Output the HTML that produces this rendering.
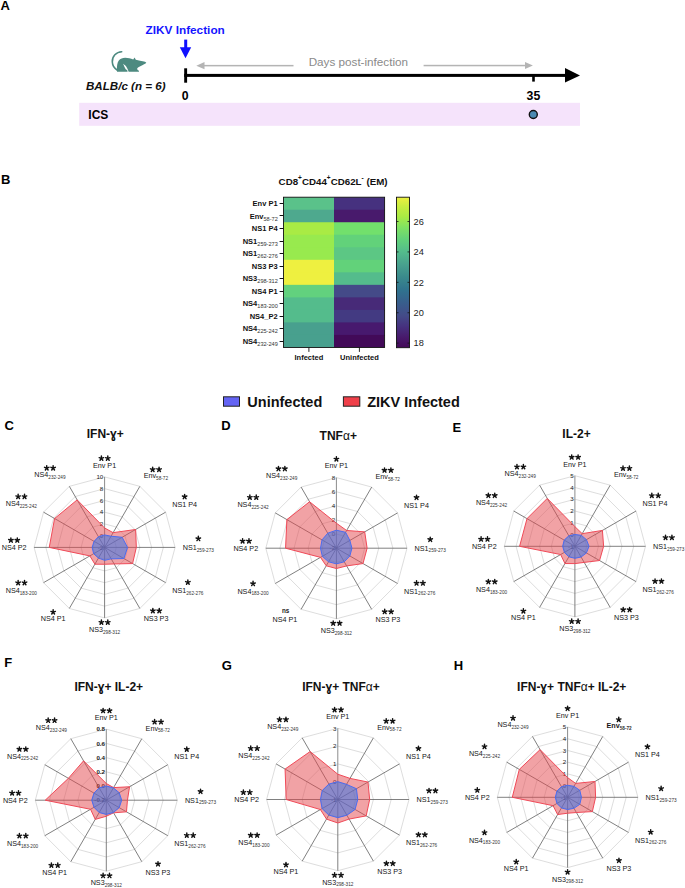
<!DOCTYPE html>
<html><head><meta charset="utf-8"><style>
html,body{margin:0;padding:0;background:#fff;}
svg{display:block;font-family:"Liberation Sans",sans-serif;}
</style></head><body>
<svg width="685" height="888" viewBox="0 0 685 888">
<rect width="685" height="888" fill="#fff"/>
<defs><linearGradient id="vir" x1="0" y1="0" x2="0" y2="1"><stop offset="0.0" stop-color="#eef040"/><stop offset="0.06" stop-color="#c8ee40"/><stop offset="0.13" stop-color="#a9eb44"/><stop offset="0.2" stop-color="#80e262"/><stop offset="0.28" stop-color="#62d27a"/><stop offset="0.36" stop-color="#54bc8c"/><stop offset="0.45" stop-color="#48a08e"/><stop offset="0.53" stop-color="#3a8a8c"/><stop offset="0.62" stop-color="#30728e"/><stop offset="0.71" stop-color="#395c8c"/><stop offset="0.79" stop-color="#444a88"/><stop offset="0.86" stop-color="#46317f"/><stop offset="0.93" stop-color="#481a6c"/><stop offset="1.0" stop-color="#430858"/></linearGradient></defs>
<text x="0.57" y="9.90" font-size="13" font-weight="bold" text-anchor="start" fill="#000">A</text>
<text x="0.91" y="184.10" font-size="13" font-weight="bold" text-anchor="start" fill="#000">B</text>
<text x="4.48" y="430.40" font-size="13" font-weight="bold" text-anchor="start" fill="#000">C</text>
<text x="221.16" y="429.90" font-size="13" font-weight="bold" text-anchor="start" fill="#000">D</text>
<text x="452.55" y="431.90" font-size="13" font-weight="bold" text-anchor="start" fill="#000">E</text>
<text x="4.16" y="666.60" font-size="13" font-weight="bold" text-anchor="start" fill="#000">F</text>
<text x="221.78" y="669.60" font-size="13" font-weight="bold" text-anchor="start" fill="#000">G</text>
<text x="453.65" y="670.40" font-size="13" font-weight="bold" text-anchor="start" fill="#000">H</text>
<rect x="79.2" y="102.8" width="500.8" height="23" fill="#f5e3fb"/>
<text x="88.32" y="118.60" font-size="12" font-weight="bold" text-anchor="start" fill="#000">ICS</text>
<circle cx="533.3" cy="114.5" r="4" fill="#4a8ab2" stroke="#111" stroke-width="1.4"/>
<rect x="184.2" y="73.9" width="382" height="3" fill="#000"/>
<polygon points="565,68 580,75.4 565,82.6" fill="#000"/>
<rect x="184.2" y="68.3" width="2.9" height="14.4" fill="#000"/>
<rect x="532.2" y="75" width="2.6" height="6.6" fill="#000"/>
<text x="181.69" y="99.90" font-size="12.3" font-weight="bold" text-anchor="start" fill="#000">0</text>
<text x="526.60" y="99.60" font-size="12.3" font-weight="bold" text-anchor="start" fill="#000">35</text>
<rect x="184.2" y="39.6" width="3" height="9" fill="#1010ff"/>
<polygon points="179.8,47.3 191.2,47.3 185.5,58.2" fill="#1010ff"/>
<text x="145.51" y="33.90" font-size="11.8" font-weight="bold" text-anchor="start" fill="#1515ff">ZIKV Infection</text>
<rect x="202" y="64.9" width="91.5" height="1.5" fill="#b4b4b4"/>
<polygon points="196.3,65.65 204.5,62.1 204.5,69.2" fill="#b4b4b4"/>
<rect x="423.6" y="64.8" width="103" height="1.5" fill="#b4b4b4"/>
<polygon points="532.9,65.55 525,62.1 525,69.1" fill="#b4b4b4"/>
<text x="308.66" y="66.10" font-size="11.7" font-weight="normal" text-anchor="start" fill="#8a8a8a">Days post-infection</text>
<path d="M121.7,51.7 C116.3,51.9 112.0,56.4 112.3,62.0 C112.5,65.8 114.6,68.6 117.4,70.2" fill="none" stroke="#4d8a80" stroke-width="1.6" stroke-linecap="round"/>
<path d="M117.0,71.7 L116.9,69.0 C116.9,66.2 117.2,62.6 118.8,60.5 C120.3,58.8 122.6,57.9 125.2,57.8 C128.0,57.8 130.8,58.6 133.2,59.6 L134.6,57.6 L135.8,59.7 C138.6,60.3 141.6,60.9 144.0,61.5 C145.2,61.9 146.1,62.3 146.3,62.8 C145.9,63.6 144.6,64.2 142.8,64.9 C140.8,65.7 138.7,66.7 137.2,68.3 L137.5,69.9 C138.4,70.1 139.1,70.5 139.0,71.7 Z" fill="#4d8a80"/>
<polygon points="123.1,63.8 125.9,66.0 127.7,69.3 128.7,71.9 127.6,71.9 127.3,70.3 125.7,69.3 124.5,66.9" fill="#fff"/>
<text x="86" y="89.5" font-size="11.6" font-weight="bold" font-style="italic" fill="#111">BALB/c (n = 6)</text>
<rect x="283.5" y="197.20" width="50.50" height="13.52" fill="#5ac28a"/>
<rect x="334.0" y="197.20" width="50.60" height="13.52" fill="#46317f"/>
<rect x="283.5" y="209.72" width="50.50" height="13.52" fill="#4ea98e"/>
<rect x="334.0" y="209.72" width="50.60" height="13.52" fill="#481a6c"/>
<rect x="283.5" y="222.24" width="50.50" height="13.52" fill="#a9eb44"/>
<rect x="334.0" y="222.24" width="50.60" height="13.52" fill="#72e06c"/>
<rect x="283.5" y="234.76" width="50.50" height="13.52" fill="#98ea4e"/>
<rect x="334.0" y="234.76" width="50.60" height="13.52" fill="#62d27a"/>
<rect x="283.5" y="247.28" width="50.50" height="13.52" fill="#98ea4e"/>
<rect x="334.0" y="247.28" width="50.60" height="13.52" fill="#5cc784"/>
<rect x="283.5" y="259.80" width="50.50" height="13.52" fill="#eef040"/>
<rect x="334.0" y="259.80" width="50.60" height="13.52" fill="#62d27a"/>
<rect x="283.5" y="272.32" width="50.50" height="13.52" fill="#eef040"/>
<rect x="334.0" y="272.32" width="50.60" height="13.52" fill="#54bc8c"/>
<rect x="283.5" y="284.84" width="50.50" height="13.52" fill="#62d17e"/>
<rect x="334.0" y="284.84" width="50.60" height="13.52" fill="#444a88"/>
<rect x="283.5" y="297.36" width="50.50" height="13.52" fill="#54bc8c"/>
<rect x="334.0" y="297.36" width="50.60" height="13.52" fill="#472a78"/>
<rect x="283.5" y="309.88" width="50.50" height="13.52" fill="#54bc8c"/>
<rect x="334.0" y="309.88" width="50.60" height="13.52" fill="#433a82"/>
<rect x="283.5" y="322.40" width="50.50" height="13.52" fill="#48a08e"/>
<rect x="334.0" y="322.40" width="50.60" height="13.52" fill="#47196e"/>
<rect x="283.5" y="334.92" width="50.50" height="12.52" fill="#48a08e"/>
<rect x="334.0" y="334.92" width="50.60" height="12.52" fill="#420a58"/>
<rect x="283.5" y="197.2" width="101.10" height="150.24" fill="none" stroke="#111" stroke-width="0.9"/>
<line x1="279.6" y1="203.50" x2="283.5" y2="203.50" stroke="#111" stroke-width="1"/>
<text x="277.60" y="206.16" font-size="7.5" font-weight="bold" text-anchor="end" fill="#111">Env P1</text>
<line x1="279.6" y1="215.50" x2="283.5" y2="215.50" stroke="#111" stroke-width="1"/>
<text x="277.8" y="218.68" font-size="7.5" font-weight="bold" text-anchor="end" fill="#111">Env<tspan font-size="5.6" font-weight="normal" dy="2" fill="#333">58-72</tspan></text>
<line x1="279.6" y1="228.50" x2="283.5" y2="228.50" stroke="#111" stroke-width="1"/>
<text x="277.60" y="231.20" font-size="7.5" font-weight="bold" text-anchor="end" fill="#111">NS1 P4</text>
<line x1="279.6" y1="241.50" x2="283.5" y2="241.50" stroke="#111" stroke-width="1"/>
<text x="277.8" y="243.72" font-size="7.5" font-weight="bold" text-anchor="end" fill="#111">NS1<tspan font-size="5.6" font-weight="normal" dy="2" fill="#333">259-273</tspan></text>
<line x1="279.6" y1="253.50" x2="283.5" y2="253.50" stroke="#111" stroke-width="1"/>
<text x="277.8" y="256.24" font-size="7.5" font-weight="bold" text-anchor="end" fill="#111">NS1<tspan font-size="5.6" font-weight="normal" dy="2" fill="#333">262-276</tspan></text>
<line x1="279.6" y1="266.50" x2="283.5" y2="266.50" stroke="#111" stroke-width="1"/>
<text x="277.60" y="268.76" font-size="7.5" font-weight="bold" text-anchor="end" fill="#111">NS3 P3</text>
<line x1="279.6" y1="278.50" x2="283.5" y2="278.50" stroke="#111" stroke-width="1"/>
<text x="277.8" y="281.28" font-size="7.5" font-weight="bold" text-anchor="end" fill="#111">NS3<tspan font-size="5.6" font-weight="normal" dy="2" fill="#333">298-312</tspan></text>
<line x1="279.6" y1="291.50" x2="283.5" y2="291.50" stroke="#111" stroke-width="1"/>
<text x="277.60" y="293.80" font-size="7.5" font-weight="bold" text-anchor="end" fill="#111">NS4 P1</text>
<line x1="279.6" y1="303.50" x2="283.5" y2="303.50" stroke="#111" stroke-width="1"/>
<text x="277.8" y="306.32" font-size="7.5" font-weight="bold" text-anchor="end" fill="#111">NS4<tspan font-size="5.6" font-weight="normal" dy="2" fill="#333">183-200</tspan></text>
<line x1="279.6" y1="316.50" x2="283.5" y2="316.50" stroke="#111" stroke-width="1"/>
<text x="277.60" y="318.84" font-size="7.5" font-weight="bold" text-anchor="end" fill="#111">NS4_P2</text>
<line x1="279.6" y1="328.50" x2="283.5" y2="328.50" stroke="#111" stroke-width="1"/>
<text x="277.8" y="331.36" font-size="7.5" font-weight="bold" text-anchor="end" fill="#111">NS4<tspan font-size="5.6" font-weight="normal" dy="2" fill="#333">225-242</tspan></text>
<line x1="279.6" y1="341.50" x2="283.5" y2="341.50" stroke="#111" stroke-width="1"/>
<text x="277.8" y="343.88" font-size="7.5" font-weight="bold" text-anchor="end" fill="#111">NS4<tspan font-size="5.6" font-weight="normal" dy="2" fill="#333">232-249</tspan></text>
<line x1="308.9" y1="347.5" x2="308.9" y2="351.9" stroke="#111" stroke-width="0.9"/>
<text x="294.52" y="360.10" font-size="7.5" font-weight="bold" text-anchor="start" fill="#111">Infected</text>
<line x1="359.4" y1="347.5" x2="359.4" y2="351.9" stroke="#111" stroke-width="0.9"/>
<text x="340.05" y="360.10" font-size="7.5" font-weight="bold" text-anchor="start" fill="#111">Uninfected</text>
<text x="278.6" y="184.5" font-size="9.75" font-weight="bold" fill="#111">CD8<tspan font-size="6.5" dy="-4.2">+</tspan><tspan dy="4.2">CD44</tspan><tspan font-size="6.5" dy="-4.2">+</tspan><tspan dy="4.2">CD62L</tspan><tspan font-size="6.5" dy="-4.2">-</tspan><tspan dy="4.2"> (EM)</tspan></text>
<rect x="396.5" y="197.2" width="13" height="150.5" fill="url(#vir)" stroke="#111" stroke-width="0.9"/>
<line x1="396.5" y1="221.52" x2="398.5" y2="221.52" stroke="#111" stroke-width="0.8"/>
<line x1="407.5" y1="221.52" x2="409.5" y2="221.52" stroke="#111" stroke-width="0.8"/>
<text x="413.60" y="224.82" font-size="9.2" font-weight="normal" text-anchor="start" fill="#222">26</text>
<line x1="396.5" y1="251.93" x2="398.5" y2="251.93" stroke="#111" stroke-width="0.8"/>
<line x1="407.5" y1="251.93" x2="409.5" y2="251.93" stroke="#111" stroke-width="0.8"/>
<text x="413.60" y="255.23" font-size="9.2" font-weight="normal" text-anchor="start" fill="#222">24</text>
<line x1="396.5" y1="282.33" x2="398.5" y2="282.33" stroke="#111" stroke-width="0.8"/>
<line x1="407.5" y1="282.33" x2="409.5" y2="282.33" stroke="#111" stroke-width="0.8"/>
<text x="413.60" y="285.63" font-size="9.2" font-weight="normal" text-anchor="start" fill="#222">22</text>
<line x1="396.5" y1="312.74" x2="398.5" y2="312.74" stroke="#111" stroke-width="0.8"/>
<line x1="407.5" y1="312.74" x2="409.5" y2="312.74" stroke="#111" stroke-width="0.8"/>
<text x="413.60" y="316.04" font-size="9.2" font-weight="normal" text-anchor="start" fill="#222">20</text>
<line x1="396.5" y1="343.14" x2="398.5" y2="343.14" stroke="#111" stroke-width="0.8"/>
<line x1="407.5" y1="343.14" x2="409.5" y2="343.14" stroke="#111" stroke-width="0.8"/>
<text x="413.60" y="346.44" font-size="9.2" font-weight="normal" text-anchor="start" fill="#222">18</text>
<rect x="223.5" y="396.8" width="16" height="9.4" fill="#6464f4" stroke="#222" stroke-width="1"/>
<text x="247.33" y="407.10" font-size="14.5" font-weight="bold" text-anchor="start" fill="#111">Uninfected</text>
<rect x="343.4" y="396.8" width="16.4" height="9.4" fill="#f0404a" stroke="#222" stroke-width="1"/>
<text x="367.14" y="407.10" font-size="14.5" font-weight="bold" text-anchor="start" fill="#111">ZIKV Infected</text>
<polygon points="104.60,535.65 110.47,537.22 114.78,541.52 116.35,547.40 114.78,553.27 110.47,557.58 104.60,559.15 98.72,557.58 94.42,553.27 92.85,547.40 94.42,541.52 98.72,537.22" fill="none" stroke="#d4d4d4" stroke-width="0.8"/>
<polygon points="104.60,523.90 116.35,527.05 124.95,535.65 128.10,547.40 124.95,559.15 116.35,567.75 104.60,570.90 92.85,567.75 84.25,559.15 81.10,547.40 84.25,535.65 92.85,527.05" fill="none" stroke="#d4d4d4" stroke-width="0.8"/>
<polygon points="104.60,512.15 122.22,516.87 135.13,529.77 139.85,547.40 135.13,565.02 122.22,577.93 104.60,582.65 86.97,577.93 74.07,565.02 69.35,547.40 74.07,529.77 86.97,516.87" fill="none" stroke="#d4d4d4" stroke-width="0.8"/>
<polygon points="104.60,500.40 128.10,506.70 145.30,523.90 151.60,547.40 145.30,570.90 128.10,588.10 104.60,594.40 81.10,588.10 63.90,570.90 57.60,547.40 63.90,523.90 81.10,506.70" fill="none" stroke="#d4d4d4" stroke-width="0.8"/>
<polygon points="104.60,488.65 133.97,496.52 155.48,518.02 163.35,547.40 155.48,576.77 133.97,598.28 104.60,606.15 75.22,598.28 53.72,576.77 45.85,547.40 53.72,518.02 75.22,496.52" fill="none" stroke="#d4d4d4" stroke-width="0.8"/>
<polygon points="104.60,476.90 139.85,486.35 165.65,512.15 175.10,547.40 165.65,582.65 139.85,608.45 104.60,617.90 69.35,608.45 43.55,582.65 34.10,547.40 43.55,512.15 69.35,486.35" fill="none" stroke="#d4d4d4" stroke-width="0.8"/>
<line x1="104.60" y1="547.40" x2="104.60" y2="476.90" stroke="#8c8c8c" stroke-width="1.0"/>
<line x1="104.60" y1="547.40" x2="139.85" y2="486.35" stroke="#555" stroke-width="0.75"/>
<line x1="104.60" y1="547.40" x2="165.65" y2="512.15" stroke="#555" stroke-width="0.75"/>
<line x1="104.60" y1="547.40" x2="175.10" y2="547.40" stroke="#555" stroke-width="0.75"/>
<line x1="104.60" y1="547.40" x2="165.65" y2="582.65" stroke="#555" stroke-width="0.75"/>
<line x1="104.60" y1="547.40" x2="139.85" y2="608.45" stroke="#555" stroke-width="0.75"/>
<line x1="104.60" y1="547.40" x2="104.60" y2="617.90" stroke="#555" stroke-width="0.75"/>
<line x1="104.60" y1="547.40" x2="69.35" y2="608.45" stroke="#555" stroke-width="0.75"/>
<line x1="104.60" y1="547.40" x2="43.55" y2="582.65" stroke="#555" stroke-width="0.75"/>
<line x1="104.60" y1="547.40" x2="34.10" y2="547.40" stroke="#555" stroke-width="0.75"/>
<line x1="104.60" y1="547.40" x2="43.55" y2="512.15" stroke="#555" stroke-width="0.75"/>
<line x1="104.60" y1="547.40" x2="69.35" y2="486.35" stroke="#555" stroke-width="0.75"/>
<text x="103.30" y="549.60" font-size="6.2" font-weight="normal" text-anchor="end" fill="#1a1a1a">-2</text>
<text x="103.30" y="537.85" font-size="6.2" font-weight="normal" text-anchor="end" fill="#1a1a1a">0</text>
<text x="103.30" y="526.10" font-size="6.2" font-weight="normal" text-anchor="end" fill="#1a1a1a">2</text>
<text x="103.30" y="514.35" font-size="6.2" font-weight="normal" text-anchor="end" fill="#1a1a1a">4</text>
<text x="103.30" y="502.60" font-size="6.2" font-weight="normal" text-anchor="end" fill="#1a1a1a">6</text>
<text x="103.30" y="490.85" font-size="6.2" font-weight="normal" text-anchor="end" fill="#1a1a1a">8</text>
<text x="103.30" y="479.10" font-size="6.2" font-weight="normal" text-anchor="end" fill="#1a1a1a">10</text>
<polygon points="104.60,528.01 113.12,532.65 135.64,529.48 136.32,547.40 132.58,563.56 114.15,563.94 104.60,564.26 94.91,564.19 89.85,555.92 49.26,547.40 54.59,518.52 77.16,499.88" fill="rgba(228,70,76,0.5)" stroke="#f04a58" stroke-width="1"/>
<polygon points="104.60,534.94 111.06,536.21 122.15,537.27 127.51,547.40 123.93,558.56 111.21,558.85 104.60,560.32 98.43,558.08 93.66,553.72 92.14,547.40 94.07,541.32 98.43,536.72" fill="rgba(52,117,232,0.55)" stroke="#4a6cf0" stroke-width="1.0"/>
<text x="92.99" y="467.70" font-size="7.2" font-weight="normal" text-anchor="start" fill="#151515">Env P1</text>
<path d="M101.40,458.40L101.40,456.05M101.40,458.40L103.63,457.67M101.40,458.40L102.78,460.30M101.40,458.40L100.02,460.30M101.40,458.40L99.17,457.67" stroke="#111" stroke-width="1.45" stroke-linecap="round" fill="none"/>
<path d="M107.80,458.40L107.80,456.05M107.80,458.40L110.03,457.67M107.80,458.40L109.18,460.30M107.80,458.40L106.42,460.30M107.80,458.40L105.57,457.67" stroke="#111" stroke-width="1.45" stroke-linecap="round" fill="none"/>
<text x="143.65" y="478.16" font-size="7.2" fill="#151515">Env<tspan font-size="4.7" dy="1.8" fill="#333">58-72</tspan></text>
<path d="M152.66,469.56L152.66,467.21M152.66,469.56L154.90,468.84M152.66,469.56L154.04,471.46M152.66,469.56L151.28,471.46M152.66,469.56L150.43,468.84" stroke="#111" stroke-width="1.45" stroke-linecap="round" fill="none"/>
<path d="M159.06,469.56L159.06,467.21M159.06,469.56L161.30,468.84M159.06,469.56L160.44,471.46M159.06,469.56L157.68,471.46M159.06,469.56L156.83,468.84" stroke="#111" stroke-width="1.45" stroke-linecap="round" fill="none"/>
<text x="172.24" y="506.75" font-size="7.2" font-weight="normal" text-anchor="start" fill="#151515">NS1 P4</text>
<path d="M184.64,496.75L184.64,494.40M184.64,496.75L186.88,496.02M184.64,496.75L186.02,498.65M184.64,496.75L183.26,498.65M184.64,496.75L182.41,496.02" stroke="#111" stroke-width="1.45" stroke-linecap="round" fill="none"/>
<text x="182.70" y="549.88" font-size="7.2" fill="#151515">NS1<tspan font-size="4.7" dy="1.8" fill="#333">259-273</tspan></text>
<path d="M198.33,538.68L198.33,536.33M198.33,538.68L200.56,537.96M198.33,538.68L199.71,540.59M198.33,538.68L196.95,540.59M198.33,538.68L196.09,537.96" stroke="#111" stroke-width="1.45" stroke-linecap="round" fill="none"/>
<text x="172.24" y="592.82" font-size="7.2" fill="#151515">NS1<tspan font-size="4.7" dy="1.8" fill="#333">262-276</tspan></text>
<path d="M187.86,582.32L187.86,579.97M187.86,582.32L190.10,581.59M187.86,582.32L189.24,584.22M187.86,582.32L186.48,584.22M187.86,582.32L185.63,581.59" stroke="#111" stroke-width="1.45" stroke-linecap="round" fill="none"/>
<text x="143.65" y="621.40" font-size="7.2" font-weight="normal" text-anchor="start" fill="#151515">NS3 P3</text>
<path d="M152.86,610.80L152.86,608.45M152.86,610.80L155.09,610.08M152.86,610.80L154.24,612.71M152.86,610.80L151.48,612.71M152.86,610.80L150.62,610.08" stroke="#111" stroke-width="1.45" stroke-linecap="round" fill="none"/>
<path d="M159.26,610.80L159.26,608.45M159.26,610.80L161.49,610.08M159.26,610.80L160.64,612.71M159.26,610.80L157.88,612.71M159.26,610.80L157.02,610.08" stroke="#111" stroke-width="1.45" stroke-linecap="round" fill="none"/>
<text x="88.97" y="631.87" font-size="7.2" fill="#151515">NS3<tspan font-size="4.7" dy="1.8" fill="#333">298-312</tspan></text>
<path d="M101.40,622.37L101.40,620.02M101.40,622.37L103.63,621.64M101.40,622.37L102.78,624.27M101.40,622.37L100.02,624.27M101.40,622.37L99.17,621.64" stroke="#111" stroke-width="1.45" stroke-linecap="round" fill="none"/>
<path d="M107.80,622.37L107.80,620.02M107.80,622.37L110.03,621.64M107.80,622.37L109.18,624.27M107.80,622.37L106.42,624.27M107.80,622.37L105.57,621.64" stroke="#111" stroke-width="1.45" stroke-linecap="round" fill="none"/>
<text x="40.74" y="621.40" font-size="7.2" font-weight="normal" text-anchor="start" fill="#151515">NS4 P1</text>
<path d="M53.14,612.10L53.14,609.75M53.14,612.10L55.38,611.38M53.14,612.10L54.52,614.01M53.14,612.10L51.76,614.01M53.14,612.10L50.91,611.38" stroke="#111" stroke-width="1.45" stroke-linecap="round" fill="none"/>
<text x="5.71" y="592.82" font-size="7.2" fill="#151515">NS4<tspan font-size="4.7" dy="1.8" fill="#333">183-200</tspan></text>
<path d="M18.14,582.82L18.14,580.47M18.14,582.82L20.37,582.09M18.14,582.82L19.52,584.72M18.14,582.82L16.76,584.72M18.14,582.82L15.90,582.09" stroke="#111" stroke-width="1.45" stroke-linecap="round" fill="none"/>
<path d="M24.54,582.82L24.54,580.47M24.54,582.82L26.77,582.09M24.54,582.82L25.92,584.72M24.54,582.82L23.16,584.72M24.54,582.82L22.30,582.09" stroke="#111" stroke-width="1.45" stroke-linecap="round" fill="none"/>
<text x="1.69" y="549.88" font-size="7.2" font-weight="normal" text-anchor="start" fill="#151515">NS4 P2</text>
<path d="M10.89,540.28L10.89,537.93M10.89,540.28L13.13,539.56M10.89,540.28L12.27,542.19M10.89,540.28L9.51,542.19M10.89,540.28L8.66,539.56" stroke="#111" stroke-width="1.45" stroke-linecap="round" fill="none"/>
<path d="M17.29,540.28L17.29,537.93M17.29,540.28L19.53,539.56M17.29,540.28L18.67,542.19M17.29,540.28L15.91,542.19M17.29,540.28L15.06,539.56" stroke="#111" stroke-width="1.45" stroke-linecap="round" fill="none"/>
<text x="5.71" y="505.95" font-size="7.2" fill="#151515">NS4<tspan font-size="4.7" dy="1.8" fill="#333">225-242</tspan></text>
<path d="M18.14,496.65L18.14,494.30M18.14,496.65L20.37,495.92M18.14,496.65L19.52,498.55M18.14,496.65L16.76,498.55M18.14,496.65L15.90,495.92" stroke="#111" stroke-width="1.45" stroke-linecap="round" fill="none"/>
<path d="M24.54,496.65L24.54,494.30M24.54,496.65L26.77,495.92M24.54,496.65L25.92,498.55M24.54,496.65L23.16,498.55M24.54,496.65L22.30,495.92" stroke="#111" stroke-width="1.45" stroke-linecap="round" fill="none"/>
<text x="34.30" y="477.36" font-size="7.2" fill="#151515">NS4<tspan font-size="4.7" dy="1.8" fill="#333">232-249</tspan></text>
<path d="M46.72,468.06L46.72,465.71M46.72,468.06L48.96,467.34M46.72,468.06L48.10,469.96M46.72,468.06L45.34,469.96M46.72,468.06L44.49,467.34" stroke="#111" stroke-width="1.45" stroke-linecap="round" fill="none"/>
<path d="M53.12,468.06L53.12,465.71M53.12,468.06L55.36,467.34M53.12,468.06L54.50,469.96M53.12,468.06L51.74,469.96M53.12,468.06L50.89,467.34" stroke="#111" stroke-width="1.45" stroke-linecap="round" fill="none"/>
<text x="105.30" y="438.20" font-size="12" font-weight="bold" text-anchor="middle" fill="#111">IFN-ɣ+</text>
<polygon points="336.40,534.08 343.46,535.97 348.63,541.14 350.52,548.20 348.63,555.26 343.46,560.43 336.40,562.32 329.34,560.43 324.17,555.26 322.28,548.20 324.17,541.14 329.34,535.97" fill="none" stroke="#d4d4d4" stroke-width="0.8"/>
<polygon points="336.40,519.96 350.52,523.74 360.86,534.08 364.64,548.20 360.86,562.32 350.52,572.66 336.40,576.44 322.28,572.66 311.94,562.32 308.16,548.20 311.94,534.08 322.28,523.74" fill="none" stroke="#d4d4d4" stroke-width="0.8"/>
<polygon points="336.40,505.84 357.58,511.52 373.08,527.02 378.76,548.20 373.08,569.38 357.58,584.88 336.40,590.56 315.22,584.88 299.72,569.38 294.04,548.20 299.72,527.02 315.22,511.52" fill="none" stroke="#d4d4d4" stroke-width="0.8"/>
<polygon points="336.40,491.72 364.64,499.29 385.31,519.96 392.88,548.20 385.31,576.44 364.64,597.11 336.40,604.68 308.16,597.11 287.49,576.44 279.92,548.20 287.49,519.96 308.16,499.29" fill="none" stroke="#d4d4d4" stroke-width="0.8"/>
<polygon points="336.40,477.60 371.70,487.06 397.54,512.90 407.00,548.20 397.54,583.50 371.70,609.34 336.40,618.80 301.10,609.34 275.26,583.50 265.80,548.20 275.26,512.90 301.10,487.06" fill="none" stroke="#d4d4d4" stroke-width="0.8"/>
<line x1="336.40" y1="548.20" x2="336.40" y2="477.60" stroke="#8c8c8c" stroke-width="1.0"/>
<line x1="336.40" y1="548.20" x2="371.70" y2="487.06" stroke="#555" stroke-width="0.75"/>
<line x1="336.40" y1="548.20" x2="397.54" y2="512.90" stroke="#555" stroke-width="0.75"/>
<line x1="336.40" y1="548.20" x2="407.00" y2="548.20" stroke="#555" stroke-width="0.75"/>
<line x1="336.40" y1="548.20" x2="397.54" y2="583.50" stroke="#555" stroke-width="0.75"/>
<line x1="336.40" y1="548.20" x2="371.70" y2="609.34" stroke="#555" stroke-width="0.75"/>
<line x1="336.40" y1="548.20" x2="336.40" y2="618.80" stroke="#555" stroke-width="0.75"/>
<line x1="336.40" y1="548.20" x2="301.10" y2="609.34" stroke="#555" stroke-width="0.75"/>
<line x1="336.40" y1="548.20" x2="275.26" y2="583.50" stroke="#555" stroke-width="0.75"/>
<line x1="336.40" y1="548.20" x2="265.80" y2="548.20" stroke="#555" stroke-width="0.75"/>
<line x1="336.40" y1="548.20" x2="275.26" y2="512.90" stroke="#555" stroke-width="0.75"/>
<line x1="336.40" y1="548.20" x2="301.10" y2="487.06" stroke="#555" stroke-width="0.75"/>
<text x="335.10" y="550.40" font-size="6.2" font-weight="normal" text-anchor="end" fill="#1a1a1a">-2</text>
<text x="335.10" y="536.28" font-size="6.2" font-weight="normal" text-anchor="end" fill="#1a1a1a">0</text>
<text x="335.10" y="522.16" font-size="6.2" font-weight="normal" text-anchor="end" fill="#1a1a1a">2</text>
<text x="335.10" y="508.04" font-size="6.2" font-weight="normal" text-anchor="end" fill="#1a1a1a">4</text>
<text x="335.10" y="493.92" font-size="6.2" font-weight="normal" text-anchor="end" fill="#1a1a1a">6</text>
<text x="335.10" y="479.80" font-size="6.2" font-weight="normal" text-anchor="end" fill="#1a1a1a">8</text>
<polygon points="336.40,523.21 346.64,530.47 364.71,531.86 367.11,548.20 363.00,563.56 346.64,565.93 336.40,568.53 326.23,565.81 320.50,557.38 285.57,548.20 286.88,519.61 309.57,501.73" fill="rgba(228,70,76,0.5)" stroke="#f04a58" stroke-width="1"/>
<polygon points="336.40,530.20 345.58,532.30 349.85,540.43 351.93,548.20 349.85,555.97 344.24,561.77 336.40,563.87 328.56,561.77 322.34,556.32 320.51,548.20 322.03,539.90 327.75,533.22" fill="rgba(52,117,232,0.55)" stroke="#4a6cf0" stroke-width="1.0"/>
<text x="324.79" y="468.40" font-size="7.2" font-weight="normal" text-anchor="start" fill="#151515">Env P1</text>
<path d="M336.40,459.10L336.40,456.75M336.40,459.10L338.63,458.37M336.40,459.10L337.78,461.00M336.40,459.10L335.02,461.00M336.40,459.10L334.17,458.37" stroke="#111" stroke-width="1.45" stroke-linecap="round" fill="none"/>
<text x="375.50" y="478.88" font-size="7.2" fill="#151515">Env<tspan font-size="4.7" dy="1.8" fill="#333">58-72</tspan></text>
<path d="M384.51,470.28L384.51,467.93M384.51,470.28L386.75,469.55M384.51,470.28L385.89,472.18M384.51,470.28L383.13,472.18M384.51,470.28L382.28,469.55" stroke="#111" stroke-width="1.45" stroke-linecap="round" fill="none"/>
<path d="M390.91,470.28L390.91,467.93M390.91,470.28L393.15,469.55M390.91,470.28L392.29,472.18M390.91,470.28L389.53,472.18M390.91,470.28L388.68,469.55" stroke="#111" stroke-width="1.45" stroke-linecap="round" fill="none"/>
<text x="404.12" y="507.50" font-size="7.2" font-weight="normal" text-anchor="start" fill="#151515">NS1 P4</text>
<path d="M416.53,497.50L416.53,495.15M416.53,497.50L418.76,496.77M416.53,497.50L417.91,499.40M416.53,497.50L415.15,499.40M416.53,497.50L414.29,496.77" stroke="#111" stroke-width="1.45" stroke-linecap="round" fill="none"/>
<text x="414.60" y="550.68" font-size="7.2" fill="#151515">NS1<tspan font-size="4.7" dy="1.8" fill="#333">259-273</tspan></text>
<path d="M430.23,539.48L430.23,537.13M430.23,539.48L432.46,538.76M430.23,539.48L431.61,541.39M430.23,539.48L428.85,541.39M430.23,539.48L427.99,538.76" stroke="#111" stroke-width="1.45" stroke-linecap="round" fill="none"/>
<text x="404.12" y="593.67" font-size="7.2" fill="#151515">NS1<tspan font-size="4.7" dy="1.8" fill="#333">262-276</tspan></text>
<path d="M416.55,583.17L416.55,580.82M416.55,583.17L418.78,582.44M416.55,583.17L417.93,585.07M416.55,583.17L415.17,585.07M416.55,583.17L414.31,582.44" stroke="#111" stroke-width="1.45" stroke-linecap="round" fill="none"/>
<path d="M422.95,583.17L422.95,580.82M422.95,583.17L425.18,582.44M422.95,583.17L424.33,585.07M422.95,583.17L421.57,585.07M422.95,583.17L420.71,582.44" stroke="#111" stroke-width="1.45" stroke-linecap="round" fill="none"/>
<text x="375.50" y="622.29" font-size="7.2" font-weight="normal" text-anchor="start" fill="#151515">NS3 P3</text>
<path d="M384.71,611.69L384.71,609.34M384.71,611.69L386.94,610.96M384.71,611.69L386.09,613.59M384.71,611.69L383.33,613.59M384.71,611.69L382.47,610.96" stroke="#111" stroke-width="1.45" stroke-linecap="round" fill="none"/>
<path d="M391.11,611.69L391.11,609.34M391.11,611.69L393.34,610.96M391.11,611.69L392.49,613.59M391.11,611.69L389.73,613.59M391.11,611.69L388.87,610.96" stroke="#111" stroke-width="1.45" stroke-linecap="round" fill="none"/>
<text x="320.77" y="632.77" font-size="7.2" fill="#151515">NS3<tspan font-size="4.7" dy="1.8" fill="#333">298-312</tspan></text>
<path d="M333.20,623.27L333.20,620.92M333.20,623.27L335.43,622.54M333.20,623.27L334.58,625.17M333.20,623.27L331.82,625.17M333.20,623.27L330.97,622.54" stroke="#111" stroke-width="1.45" stroke-linecap="round" fill="none"/>
<path d="M339.60,623.27L339.60,620.92M339.60,623.27L341.83,622.54M339.60,623.27L340.98,625.17M339.60,623.27L338.22,625.17M339.60,623.27L337.37,622.54" stroke="#111" stroke-width="1.45" stroke-linecap="round" fill="none"/>
<text x="272.49" y="622.29" font-size="7.2" font-weight="normal" text-anchor="start" fill="#151515">NS4 P1</text>
<text x="285.69" y="613.49" font-size="6.3" font-weight="bold" text-anchor="middle" fill="#222">ns</text>
<text x="237.42" y="593.67" font-size="7.2" fill="#151515">NS4<tspan font-size="4.7" dy="1.8" fill="#333">183-200</tspan></text>
<path d="M253.05,583.67L253.05,581.32M253.05,583.67L255.29,582.94M253.05,583.67L254.43,585.57M253.05,583.67L251.67,585.57M253.05,583.67L250.82,582.94" stroke="#111" stroke-width="1.45" stroke-linecap="round" fill="none"/>
<text x="233.39" y="550.68" font-size="7.2" font-weight="normal" text-anchor="start" fill="#151515">NS4 P2</text>
<path d="M242.59,541.08L242.59,538.73M242.59,541.08L244.83,540.36M242.59,541.08L243.97,542.99M242.59,541.08L241.21,542.99M242.59,541.08L240.36,540.36" stroke="#111" stroke-width="1.45" stroke-linecap="round" fill="none"/>
<path d="M248.99,541.08L248.99,538.73M248.99,541.08L251.23,540.36M248.99,541.08L250.37,542.99M248.99,541.08L247.61,542.99M248.99,541.08L246.76,540.36" stroke="#111" stroke-width="1.45" stroke-linecap="round" fill="none"/>
<text x="237.42" y="506.70" font-size="7.2" fill="#151515">NS4<tspan font-size="4.7" dy="1.8" fill="#333">225-242</tspan></text>
<path d="M249.85,497.40L249.85,495.05M249.85,497.40L252.09,496.67M249.85,497.40L251.23,499.30M249.85,497.40L248.47,499.30M249.85,497.40L247.62,496.67" stroke="#111" stroke-width="1.45" stroke-linecap="round" fill="none"/>
<path d="M256.25,497.40L256.25,495.05M256.25,497.40L258.49,496.67M256.25,497.40L257.63,499.30M256.25,497.40L254.87,499.30M256.25,497.40L254.02,496.67" stroke="#111" stroke-width="1.45" stroke-linecap="round" fill="none"/>
<text x="266.05" y="478.08" font-size="7.2" fill="#151515">NS4<tspan font-size="4.7" dy="1.8" fill="#333">232-249</tspan></text>
<path d="M278.47,468.78L278.47,466.43M278.47,468.78L280.71,468.05M278.47,468.78L279.85,470.68M278.47,468.78L277.09,470.68M278.47,468.78L276.24,468.05" stroke="#111" stroke-width="1.45" stroke-linecap="round" fill="none"/>
<path d="M284.87,468.78L284.87,466.43M284.87,468.78L287.11,468.05M284.87,468.78L286.25,470.68M284.87,468.78L283.49,470.68M284.87,468.78L282.64,468.05" stroke="#111" stroke-width="1.45" stroke-linecap="round" fill="none"/>
<text x="338.25" y="439.60" font-size="12" font-weight="bold" text-anchor="middle" fill="#111">TNF<tspan font-weight="normal">α</tspan>+</text>
<polygon points="574.90,534.53 580.78,536.11 585.09,540.42 586.67,546.30 585.09,552.18 580.78,556.49 574.90,558.07 569.02,556.49 564.71,552.18 563.13,546.30 564.71,540.42 569.02,536.11" fill="none" stroke="#d4d4d4" stroke-width="0.8"/>
<polygon points="574.90,522.77 586.67,525.92 595.28,534.53 598.43,546.30 595.28,558.07 586.67,566.68 574.90,569.83 563.13,566.68 554.52,558.07 551.37,546.30 554.52,534.53 563.13,525.92" fill="none" stroke="#d4d4d4" stroke-width="0.8"/>
<polygon points="574.90,511.00 592.55,515.73 605.47,528.65 610.20,546.30 605.47,563.95 592.55,576.87 574.90,581.60 557.25,576.87 544.33,563.95 539.60,546.30 544.33,528.65 557.25,515.73" fill="none" stroke="#d4d4d4" stroke-width="0.8"/>
<polygon points="574.90,499.23 598.43,505.54 615.66,522.77 621.97,546.30 615.66,569.83 598.43,587.06 574.90,593.37 551.37,587.06 534.14,569.83 527.83,546.30 534.14,522.77 551.37,505.54" fill="none" stroke="#d4d4d4" stroke-width="0.8"/>
<polygon points="574.90,487.47 604.32,495.35 625.85,516.88 633.73,546.30 625.85,575.72 604.32,597.25 574.90,605.13 545.48,597.25 523.95,575.72 516.07,546.30 523.95,516.88 545.48,495.35" fill="none" stroke="#d4d4d4" stroke-width="0.8"/>
<polygon points="574.90,475.70 610.20,485.16 636.04,511.00 645.50,546.30 636.04,581.60 610.20,607.44 574.90,616.90 539.60,607.44 513.76,581.60 504.30,546.30 513.76,511.00 539.60,485.16" fill="none" stroke="#d4d4d4" stroke-width="0.8"/>
<line x1="574.90" y1="546.30" x2="574.90" y2="475.70" stroke="#8c8c8c" stroke-width="1.0"/>
<line x1="574.90" y1="546.30" x2="610.20" y2="485.16" stroke="#555" stroke-width="0.75"/>
<line x1="574.90" y1="546.30" x2="636.04" y2="511.00" stroke="#555" stroke-width="0.75"/>
<line x1="574.90" y1="546.30" x2="645.50" y2="546.30" stroke="#555" stroke-width="0.75"/>
<line x1="574.90" y1="546.30" x2="636.04" y2="581.60" stroke="#555" stroke-width="0.75"/>
<line x1="574.90" y1="546.30" x2="610.20" y2="607.44" stroke="#555" stroke-width="0.75"/>
<line x1="574.90" y1="546.30" x2="574.90" y2="616.90" stroke="#555" stroke-width="0.75"/>
<line x1="574.90" y1="546.30" x2="539.60" y2="607.44" stroke="#555" stroke-width="0.75"/>
<line x1="574.90" y1="546.30" x2="513.76" y2="581.60" stroke="#555" stroke-width="0.75"/>
<line x1="574.90" y1="546.30" x2="504.30" y2="546.30" stroke="#555" stroke-width="0.75"/>
<line x1="574.90" y1="546.30" x2="513.76" y2="511.00" stroke="#555" stroke-width="0.75"/>
<line x1="574.90" y1="546.30" x2="539.60" y2="485.16" stroke="#555" stroke-width="0.75"/>
<text x="573.60" y="548.50" font-size="6.2" font-weight="normal" text-anchor="end" fill="#1a1a1a">-1</text>
<text x="573.60" y="536.73" font-size="6.2" font-weight="normal" text-anchor="end" fill="#1a1a1a">0</text>
<text x="573.60" y="524.97" font-size="6.2" font-weight="normal" text-anchor="end" fill="#1a1a1a">1</text>
<text x="573.60" y="513.20" font-size="6.2" font-weight="normal" text-anchor="end" fill="#1a1a1a">2</text>
<text x="573.60" y="501.43" font-size="6.2" font-weight="normal" text-anchor="end" fill="#1a1a1a">3</text>
<text x="573.60" y="489.67" font-size="6.2" font-weight="normal" text-anchor="end" fill="#1a1a1a">4</text>
<text x="573.60" y="477.90" font-size="6.2" font-weight="normal" text-anchor="end" fill="#1a1a1a">5</text>
<polygon points="574.90,526.65 582.20,533.66 602.41,530.41 603.61,546.30 599.56,560.54 584.20,562.40 574.90,563.60 564.96,563.52 560.63,554.54 519.60,546.30 527.01,518.65 547.25,498.41" fill="rgba(228,70,76,0.5)" stroke="#f04a58" stroke-width="1"/>
<polygon points="574.90,534.53 581.25,535.29 586.41,539.65 589.02,546.30 586.41,552.95 581.08,557.00 574.90,558.30 568.84,556.80 564.40,552.36 562.66,546.30 564.20,540.12 568.84,535.80" fill="rgba(52,117,232,0.55)" stroke="#4a6cf0" stroke-width="1.0"/>
<text x="563.29" y="466.50" font-size="7.2" font-weight="normal" text-anchor="start" fill="#151515">Env P1</text>
<path d="M571.70,457.20L571.70,454.85M571.70,457.20L573.93,456.47M571.70,457.20L573.08,459.10M571.70,457.20L570.32,459.10M571.70,457.20L569.47,456.47" stroke="#111" stroke-width="1.45" stroke-linecap="round" fill="none"/>
<path d="M578.10,457.20L578.10,454.85M578.10,457.20L580.33,456.47M578.10,457.20L579.48,459.10M578.10,457.20L576.72,459.10M578.10,457.20L575.87,456.47" stroke="#111" stroke-width="1.45" stroke-linecap="round" fill="none"/>
<text x="614.00" y="476.98" font-size="7.2" fill="#151515">Env<tspan font-size="4.7" dy="1.8" fill="#333">58-72</tspan></text>
<path d="M623.01,468.38L623.01,466.03M623.01,468.38L625.25,467.65M623.01,468.38L624.39,470.28M623.01,468.38L621.63,470.28M623.01,468.38L620.78,467.65" stroke="#111" stroke-width="1.45" stroke-linecap="round" fill="none"/>
<path d="M629.41,468.38L629.41,466.03M629.41,468.38L631.65,467.65M629.41,468.38L630.79,470.28M629.41,468.38L628.03,470.28M629.41,468.38L627.18,467.65" stroke="#111" stroke-width="1.45" stroke-linecap="round" fill="none"/>
<text x="642.62" y="505.60" font-size="7.2" font-weight="normal" text-anchor="start" fill="#151515">NS1 P4</text>
<path d="M651.83,495.60L651.83,493.25M651.83,495.60L654.06,494.87M651.83,495.60L653.21,497.50M651.83,495.60L650.45,497.50M651.83,495.60L649.59,494.87" stroke="#111" stroke-width="1.45" stroke-linecap="round" fill="none"/>
<path d="M658.23,495.60L658.23,493.25M658.23,495.60L660.46,494.87M658.23,495.60L659.61,497.50M658.23,495.60L656.85,497.50M658.23,495.60L655.99,494.87" stroke="#111" stroke-width="1.45" stroke-linecap="round" fill="none"/>
<text x="653.10" y="548.78" font-size="7.2" fill="#151515">NS1<tspan font-size="4.7" dy="1.8" fill="#333">259-273</tspan></text>
<path d="M665.53,537.58L665.53,535.23M665.53,537.58L667.76,536.86M665.53,537.58L666.91,539.49M665.53,537.58L664.15,539.49M665.53,537.58L663.29,536.86" stroke="#111" stroke-width="1.45" stroke-linecap="round" fill="none"/>
<path d="M671.93,537.58L671.93,535.23M671.93,537.58L674.16,536.86M671.93,537.58L673.31,539.49M671.93,537.58L670.55,539.49M671.93,537.58L669.69,536.86" stroke="#111" stroke-width="1.45" stroke-linecap="round" fill="none"/>
<text x="642.62" y="591.77" font-size="7.2" fill="#151515">NS1<tspan font-size="4.7" dy="1.8" fill="#333">262-276</tspan></text>
<path d="M655.05,581.27L655.05,578.92M655.05,581.27L657.28,580.54M655.05,581.27L656.43,583.17M655.05,581.27L653.67,583.17M655.05,581.27L652.81,580.54" stroke="#111" stroke-width="1.45" stroke-linecap="round" fill="none"/>
<path d="M661.45,581.27L661.45,578.92M661.45,581.27L663.68,580.54M661.45,581.27L662.83,583.17M661.45,581.27L660.07,583.17M661.45,581.27L659.21,580.54" stroke="#111" stroke-width="1.45" stroke-linecap="round" fill="none"/>
<text x="614.00" y="620.39" font-size="7.2" font-weight="normal" text-anchor="start" fill="#151515">NS3 P3</text>
<path d="M623.21,609.79L623.21,607.44M623.21,609.79L625.44,609.06M623.21,609.79L624.59,611.69M623.21,609.79L621.83,611.69M623.21,609.79L620.97,609.06" stroke="#111" stroke-width="1.45" stroke-linecap="round" fill="none"/>
<path d="M629.61,609.79L629.61,607.44M629.61,609.79L631.84,609.06M629.61,609.79L630.99,611.69M629.61,609.79L628.23,611.69M629.61,609.79L627.37,609.06" stroke="#111" stroke-width="1.45" stroke-linecap="round" fill="none"/>
<text x="559.27" y="630.87" font-size="7.2" fill="#151515">NS3<tspan font-size="4.7" dy="1.8" fill="#333">298-312</tspan></text>
<path d="M571.70,621.37L571.70,619.02M571.70,621.37L573.93,620.64M571.70,621.37L573.08,623.27M571.70,621.37L570.32,623.27M571.70,621.37L569.47,620.64" stroke="#111" stroke-width="1.45" stroke-linecap="round" fill="none"/>
<path d="M578.10,621.37L578.10,619.02M578.10,621.37L580.33,620.64M578.10,621.37L579.48,623.27M578.10,621.37L576.72,623.27M578.10,621.37L575.87,620.64" stroke="#111" stroke-width="1.45" stroke-linecap="round" fill="none"/>
<text x="510.99" y="620.39" font-size="7.2" font-weight="normal" text-anchor="start" fill="#151515">NS4 P1</text>
<path d="M523.39,611.09L523.39,608.74M523.39,611.09L525.63,610.36M523.39,611.09L524.77,612.99M523.39,611.09L522.01,612.99M523.39,611.09L521.16,610.36" stroke="#111" stroke-width="1.45" stroke-linecap="round" fill="none"/>
<text x="475.92" y="591.77" font-size="7.2" fill="#151515">NS4<tspan font-size="4.7" dy="1.8" fill="#333">183-200</tspan></text>
<path d="M488.35,581.77L488.35,579.42M488.35,581.77L490.59,581.04M488.35,581.77L489.73,583.67M488.35,581.77L486.97,583.67M488.35,581.77L486.12,581.04" stroke="#111" stroke-width="1.45" stroke-linecap="round" fill="none"/>
<path d="M494.75,581.77L494.75,579.42M494.75,581.77L496.99,581.04M494.75,581.77L496.13,583.67M494.75,581.77L493.37,583.67M494.75,581.77L492.52,581.04" stroke="#111" stroke-width="1.45" stroke-linecap="round" fill="none"/>
<text x="471.89" y="548.78" font-size="7.2" font-weight="normal" text-anchor="start" fill="#151515">NS4 P2</text>
<path d="M481.09,539.18L481.09,536.83M481.09,539.18L483.33,538.46M481.09,539.18L482.47,541.09M481.09,539.18L479.71,541.09M481.09,539.18L478.86,538.46" stroke="#111" stroke-width="1.45" stroke-linecap="round" fill="none"/>
<path d="M487.49,539.18L487.49,536.83M487.49,539.18L489.73,538.46M487.49,539.18L488.87,541.09M487.49,539.18L486.11,541.09M487.49,539.18L485.26,538.46" stroke="#111" stroke-width="1.45" stroke-linecap="round" fill="none"/>
<text x="475.92" y="504.80" font-size="7.2" fill="#151515">NS4<tspan font-size="4.7" dy="1.8" fill="#333">225-242</tspan></text>
<path d="M488.35,495.50L488.35,493.15M488.35,495.50L490.59,494.77M488.35,495.50L489.73,497.40M488.35,495.50L486.97,497.40M488.35,495.50L486.12,494.77" stroke="#111" stroke-width="1.45" stroke-linecap="round" fill="none"/>
<path d="M494.75,495.50L494.75,493.15M494.75,495.50L496.99,494.77M494.75,495.50L496.13,497.40M494.75,495.50L493.37,497.40M494.75,495.50L492.52,494.77" stroke="#111" stroke-width="1.45" stroke-linecap="round" fill="none"/>
<text x="504.55" y="476.18" font-size="7.2" fill="#151515">NS4<tspan font-size="4.7" dy="1.8" fill="#333">232-249</tspan></text>
<path d="M516.97,466.88L516.97,464.53M516.97,466.88L519.21,466.15M516.97,466.88L518.35,468.78M516.97,466.88L515.59,468.78M516.97,466.88L514.74,466.15" stroke="#111" stroke-width="1.45" stroke-linecap="round" fill="none"/>
<path d="M523.37,466.88L523.37,464.53M523.37,466.88L525.61,466.15M523.37,466.88L524.75,468.78M523.37,466.88L521.99,468.78M523.37,466.88L521.14,466.15" stroke="#111" stroke-width="1.45" stroke-linecap="round" fill="none"/>
<text x="576.50" y="437.60" font-size="12" font-weight="bold" text-anchor="middle" fill="#111">IL-2+</text>
<polygon points="106.30,786.00 113.40,787.90 118.60,793.10 120.50,800.20 118.60,807.30 113.40,812.50 106.30,814.40 99.20,812.50 94.00,807.30 92.10,800.20 94.00,793.10 99.20,787.90" fill="none" stroke="#d4d4d4" stroke-width="0.8"/>
<polygon points="106.30,771.80 120.50,775.60 130.90,786.00 134.70,800.20 130.90,814.40 120.50,824.80 106.30,828.60 92.10,824.80 81.70,814.40 77.90,800.20 81.70,786.00 92.10,775.60" fill="none" stroke="#d4d4d4" stroke-width="0.8"/>
<polygon points="106.30,757.60 127.60,763.31 143.19,778.90 148.90,800.20 143.19,821.50 127.60,837.09 106.30,842.80 85.00,837.09 69.41,821.50 63.70,800.20 69.41,778.90 85.00,763.31" fill="none" stroke="#d4d4d4" stroke-width="0.8"/>
<polygon points="106.30,743.40 134.70,751.01 155.49,771.80 163.10,800.20 155.49,828.60 134.70,849.39 106.30,857.00 77.90,849.39 57.11,828.60 49.50,800.20 57.11,771.80 77.90,751.01" fill="none" stroke="#d4d4d4" stroke-width="0.8"/>
<polygon points="106.30,729.20 141.80,738.71 167.79,764.70 177.30,800.20 167.79,835.70 141.80,861.69 106.30,871.20 70.80,861.69 44.81,835.70 35.30,800.20 44.81,764.70 70.80,738.71" fill="none" stroke="#d4d4d4" stroke-width="0.8"/>
<line x1="106.30" y1="800.20" x2="106.30" y2="729.20" stroke="#8c8c8c" stroke-width="1.0"/>
<line x1="106.30" y1="800.20" x2="141.80" y2="738.71" stroke="#555" stroke-width="0.75"/>
<line x1="106.30" y1="800.20" x2="167.79" y2="764.70" stroke="#555" stroke-width="0.75"/>
<line x1="106.30" y1="800.20" x2="177.30" y2="800.20" stroke="#555" stroke-width="0.75"/>
<line x1="106.30" y1="800.20" x2="167.79" y2="835.70" stroke="#555" stroke-width="0.75"/>
<line x1="106.30" y1="800.20" x2="141.80" y2="861.69" stroke="#555" stroke-width="0.75"/>
<line x1="106.30" y1="800.20" x2="106.30" y2="871.20" stroke="#555" stroke-width="0.75"/>
<line x1="106.30" y1="800.20" x2="70.80" y2="861.69" stroke="#555" stroke-width="0.75"/>
<line x1="106.30" y1="800.20" x2="44.81" y2="835.70" stroke="#555" stroke-width="0.75"/>
<line x1="106.30" y1="800.20" x2="35.30" y2="800.20" stroke="#555" stroke-width="0.75"/>
<line x1="106.30" y1="800.20" x2="44.81" y2="764.70" stroke="#555" stroke-width="0.75"/>
<line x1="106.30" y1="800.20" x2="70.80" y2="738.71" stroke="#555" stroke-width="0.75"/>
<text x="105.00" y="802.40" font-size="6.2" font-weight="bold" text-anchor="end" fill="#1a1a1a">-0.2</text>
<text x="105.00" y="788.20" font-size="6.2" font-weight="bold" text-anchor="end" fill="#1a1a1a">0.0</text>
<text x="105.00" y="774.00" font-size="6.2" font-weight="bold" text-anchor="end" fill="#1a1a1a">0.2</text>
<text x="105.00" y="759.80" font-size="6.2" font-weight="bold" text-anchor="end" fill="#1a1a1a">0.4</text>
<text x="105.00" y="745.60" font-size="6.2" font-weight="bold" text-anchor="end" fill="#1a1a1a">0.6</text>
<text x="105.00" y="731.40" font-size="6.2" font-weight="bold" text-anchor="end" fill="#1a1a1a">0.8</text>
<polygon points="106.30,783.52 113.58,787.60 129.54,786.78 127.46,800.20 126.47,811.84 113.58,812.80 106.30,816.25 95.22,819.38 90.56,809.29 45.24,800.20 68.42,778.33 83.58,760.85" fill="rgba(228,70,76,0.5)" stroke="#f04a58" stroke-width="1"/>
<polygon points="106.30,786.00 113.40,787.90 119.21,792.75 121.71,800.20 119.21,807.66 113.40,812.50 106.30,814.40 99.20,812.50 94.00,807.30 91.74,800.20 94.00,793.10 99.20,787.90" fill="rgba(52,117,232,0.55)" stroke="#4a6cf0" stroke-width="1.0"/>
<text x="94.69" y="720.00" font-size="7.2" font-weight="normal" text-anchor="start" fill="#151515">Env P1</text>
<path d="M103.10,710.70L103.10,708.35M103.10,710.70L105.33,709.97M103.10,710.70L104.48,712.60M103.10,710.70L101.72,712.60M103.10,710.70L100.87,709.97" stroke="#111" stroke-width="1.45" stroke-linecap="round" fill="none"/>
<path d="M109.50,710.70L109.50,708.35M109.50,710.70L111.73,709.97M109.50,710.70L110.88,712.60M109.50,710.70L108.12,712.60M109.50,710.70L107.27,709.97" stroke="#111" stroke-width="1.45" stroke-linecap="round" fill="none"/>
<text x="145.60" y="730.53" font-size="7.2" fill="#151515">Env<tspan font-size="4.7" dy="1.8" fill="#333">58-72</tspan></text>
<path d="M154.61,721.93L154.61,719.58M154.61,721.93L156.85,721.20M154.61,721.93L155.99,723.83M154.61,721.93L153.23,723.83M154.61,721.93L152.38,721.20" stroke="#111" stroke-width="1.45" stroke-linecap="round" fill="none"/>
<path d="M161.01,721.93L161.01,719.58M161.01,721.93L163.25,721.20M161.01,721.93L162.39,723.83M161.01,721.93L159.63,723.83M161.01,721.93L158.78,721.20" stroke="#111" stroke-width="1.45" stroke-linecap="round" fill="none"/>
<text x="174.37" y="759.30" font-size="7.2" font-weight="normal" text-anchor="start" fill="#151515">NS1 P4</text>
<path d="M186.78,749.30L186.78,746.95M186.78,749.30L189.01,748.57M186.78,749.30L188.16,751.20M186.78,749.30L185.39,751.20M186.78,749.30L184.54,748.57" stroke="#111" stroke-width="1.45" stroke-linecap="round" fill="none"/>
<text x="184.90" y="802.68" font-size="7.2" fill="#151515">NS1<tspan font-size="4.7" dy="1.8" fill="#333">259-273</tspan></text>
<path d="M200.53,791.48L200.53,789.13M200.53,791.48L202.76,790.76M200.53,791.48L201.91,793.39M200.53,791.48L199.15,793.39M200.53,791.48L198.29,790.76" stroke="#111" stroke-width="1.45" stroke-linecap="round" fill="none"/>
<text x="174.37" y="845.87" font-size="7.2" fill="#151515">NS1<tspan font-size="4.7" dy="1.8" fill="#333">262-276</tspan></text>
<path d="M186.80,835.37L186.80,833.02M186.80,835.37L189.03,834.64M186.80,835.37L188.18,837.27M186.80,835.37L185.41,837.27M186.80,835.37L184.56,834.64" stroke="#111" stroke-width="1.45" stroke-linecap="round" fill="none"/>
<path d="M193.20,835.37L193.20,833.02M193.20,835.37L195.43,834.64M193.20,835.37L194.58,837.27M193.20,835.37L191.81,837.27M193.20,835.37L190.96,834.64" stroke="#111" stroke-width="1.45" stroke-linecap="round" fill="none"/>
<text x="145.60" y="874.64" font-size="7.2" font-weight="normal" text-anchor="start" fill="#151515">NS3 P3</text>
<path d="M158.01,864.04L158.01,861.69M158.01,864.04L160.24,863.31M158.01,864.04L159.39,865.94M158.01,864.04L156.63,865.94M158.01,864.04L155.77,863.31" stroke="#111" stroke-width="1.45" stroke-linecap="round" fill="none"/>
<text x="90.67" y="885.17" font-size="7.2" fill="#151515">NS3<tspan font-size="4.7" dy="1.8" fill="#333">298-312</tspan></text>
<path d="M103.10,875.67L103.10,873.32M103.10,875.67L105.33,874.94M103.10,875.67L104.48,877.57M103.10,875.67L101.72,877.57M103.10,875.67L100.87,874.94" stroke="#111" stroke-width="1.45" stroke-linecap="round" fill="none"/>
<path d="M109.50,875.67L109.50,873.32M109.50,875.67L111.73,874.94M109.50,875.67L110.88,877.57M109.50,875.67L108.12,877.57M109.50,875.67L107.27,874.94" stroke="#111" stroke-width="1.45" stroke-linecap="round" fill="none"/>
<text x="42.19" y="874.64" font-size="7.2" font-weight="normal" text-anchor="start" fill="#151515">NS4 P1</text>
<path d="M51.39,865.34L51.39,862.99M51.39,865.34L53.63,864.61M51.39,865.34L52.77,867.24M51.39,865.34L50.01,867.24M51.39,865.34L49.16,864.61" stroke="#111" stroke-width="1.45" stroke-linecap="round" fill="none"/>
<path d="M57.79,865.34L57.79,862.99M57.79,865.34L60.03,864.61M57.79,865.34L59.17,867.24M57.79,865.34L56.41,867.24M57.79,865.34L55.56,864.61" stroke="#111" stroke-width="1.45" stroke-linecap="round" fill="none"/>
<text x="6.98" y="845.87" font-size="7.2" fill="#151515">NS4<tspan font-size="4.7" dy="1.8" fill="#333">183-200</tspan></text>
<path d="M19.40,835.87L19.40,833.52M19.40,835.87L21.64,835.14M19.40,835.87L20.79,837.77M19.40,835.87L18.02,837.77M19.40,835.87L17.17,835.14" stroke="#111" stroke-width="1.45" stroke-linecap="round" fill="none"/>
<path d="M25.80,835.87L25.80,833.52M25.80,835.87L28.04,835.14M25.80,835.87L27.19,837.77M25.80,835.87L24.42,837.77M25.80,835.87L23.57,835.14" stroke="#111" stroke-width="1.45" stroke-linecap="round" fill="none"/>
<text x="2.89" y="802.68" font-size="7.2" font-weight="normal" text-anchor="start" fill="#151515">NS4 P2</text>
<path d="M12.09,793.08L12.09,790.73M12.09,793.08L14.33,792.36M12.09,793.08L13.47,794.99M12.09,793.08L10.71,794.99M12.09,793.08L9.86,792.36" stroke="#111" stroke-width="1.45" stroke-linecap="round" fill="none"/>
<path d="M18.49,793.08L18.49,790.73M18.49,793.08L20.73,792.36M18.49,793.08L19.87,794.99M18.49,793.08L17.11,794.99M18.49,793.08L16.26,792.36" stroke="#111" stroke-width="1.45" stroke-linecap="round" fill="none"/>
<text x="6.98" y="758.50" font-size="7.2" fill="#151515">NS4<tspan font-size="4.7" dy="1.8" fill="#333">225-242</tspan></text>
<path d="M19.40,749.20L19.40,746.85M19.40,749.20L21.64,748.47M19.40,749.20L20.79,751.10M19.40,749.20L18.02,751.10M19.40,749.20L17.17,748.47" stroke="#111" stroke-width="1.45" stroke-linecap="round" fill="none"/>
<path d="M25.80,749.20L25.80,746.85M25.80,749.20L28.04,748.47M25.80,749.20L27.19,751.10M25.80,749.20L24.42,751.10M25.80,749.20L23.57,748.47" stroke="#111" stroke-width="1.45" stroke-linecap="round" fill="none"/>
<text x="35.75" y="729.73" font-size="7.2" fill="#151515">NS4<tspan font-size="4.7" dy="1.8" fill="#333">232-249</tspan></text>
<path d="M48.17,720.43L48.17,718.08M48.17,720.43L50.41,719.70M48.17,720.43L49.55,722.33M48.17,720.43L46.79,722.33M48.17,720.43L45.94,719.70" stroke="#111" stroke-width="1.45" stroke-linecap="round" fill="none"/>
<path d="M54.57,720.43L54.57,718.08M54.57,720.43L56.81,719.70M54.57,720.43L55.95,722.33M54.57,720.43L53.19,722.33M54.57,720.43L52.34,719.70" stroke="#111" stroke-width="1.45" stroke-linecap="round" fill="none"/>
<text x="108.75" y="691.40" font-size="12" font-weight="bold" text-anchor="middle" fill="#111">IFN-ɣ+ IL-2+</text>
<polygon points="337.80,781.70 346.70,784.08 353.22,790.60 355.60,799.50 353.22,808.40 346.70,814.92 337.80,817.30 328.90,814.92 322.38,808.40 320.00,799.50 322.38,790.60 328.90,784.08" fill="none" stroke="#d4d4d4" stroke-width="0.8"/>
<polygon points="337.80,763.90 355.60,768.67 368.63,781.70 373.40,799.50 368.63,817.30 355.60,830.33 337.80,835.10 320.00,830.33 306.97,817.30 302.20,799.50 306.97,781.70 320.00,768.67" fill="none" stroke="#d4d4d4" stroke-width="0.8"/>
<polygon points="337.80,746.10 364.50,753.25 384.05,772.80 391.20,799.50 384.05,826.20 364.50,845.75 337.80,852.90 311.10,845.75 291.55,826.20 284.40,799.50 291.55,772.80 311.10,753.25" fill="none" stroke="#d4d4d4" stroke-width="0.8"/>
<polygon points="337.80,728.30 373.40,737.84 399.46,763.90 409.00,799.50 399.46,835.10 373.40,861.16 337.80,870.70 302.20,861.16 276.14,835.10 266.60,799.50 276.14,763.90 302.20,737.84" fill="none" stroke="#d4d4d4" stroke-width="0.8"/>
<line x1="337.80" y1="799.50" x2="337.80" y2="728.30" stroke="#8c8c8c" stroke-width="1.0"/>
<line x1="337.80" y1="799.50" x2="373.40" y2="737.84" stroke="#555" stroke-width="0.75"/>
<line x1="337.80" y1="799.50" x2="399.46" y2="763.90" stroke="#555" stroke-width="0.75"/>
<line x1="337.80" y1="799.50" x2="409.00" y2="799.50" stroke="#555" stroke-width="0.75"/>
<line x1="337.80" y1="799.50" x2="399.46" y2="835.10" stroke="#555" stroke-width="0.75"/>
<line x1="337.80" y1="799.50" x2="373.40" y2="861.16" stroke="#555" stroke-width="0.75"/>
<line x1="337.80" y1="799.50" x2="337.80" y2="870.70" stroke="#555" stroke-width="0.75"/>
<line x1="337.80" y1="799.50" x2="302.20" y2="861.16" stroke="#555" stroke-width="0.75"/>
<line x1="337.80" y1="799.50" x2="276.14" y2="835.10" stroke="#555" stroke-width="0.75"/>
<line x1="337.80" y1="799.50" x2="266.60" y2="799.50" stroke="#555" stroke-width="0.75"/>
<line x1="337.80" y1="799.50" x2="276.14" y2="763.90" stroke="#555" stroke-width="0.75"/>
<line x1="337.80" y1="799.50" x2="302.20" y2="737.84" stroke="#555" stroke-width="0.75"/>
<text x="336.50" y="801.70" font-size="6.2" font-weight="normal" text-anchor="end" fill="#1a1a1a">-1</text>
<text x="336.50" y="783.90" font-size="6.2" font-weight="normal" text-anchor="end" fill="#1a1a1a">0</text>
<text x="336.50" y="766.10" font-size="6.2" font-weight="normal" text-anchor="end" fill="#1a1a1a">1</text>
<text x="336.50" y="748.30" font-size="6.2" font-weight="normal" text-anchor="end" fill="#1a1a1a">2</text>
<text x="336.50" y="730.50" font-size="6.2" font-weight="normal" text-anchor="end" fill="#1a1a1a">3</text>
<polygon points="337.80,774.22 349.99,778.38 368.01,782.06 369.66,799.50 366.16,815.88 349.10,819.08 337.80,823.00 326.50,819.08 320.38,809.56 286.18,799.50 285.08,769.06 310.12,751.56" fill="rgba(228,70,76,0.5)" stroke="#f04a58" stroke-width="1"/>
<polygon points="337.80,781.70 346.52,784.39 356.45,788.73 357.74,799.50 355.07,809.47 346.88,815.22 337.80,817.66 328.81,815.07 322.08,808.58 320.53,799.50 322.23,790.51 328.90,784.08" fill="rgba(52,117,232,0.55)" stroke="#4a6cf0" stroke-width="1.0"/>
<text x="326.19" y="719.10" font-size="7.2" font-weight="normal" text-anchor="start" fill="#151515">Env P1</text>
<path d="M334.60,709.80L334.60,707.45M334.60,709.80L336.83,709.07M334.60,709.80L335.98,711.70M334.60,709.80L333.22,711.70M334.60,709.80L332.37,709.07" stroke="#111" stroke-width="1.45" stroke-linecap="round" fill="none"/>
<path d="M341.00,709.80L341.00,707.45M341.00,709.80L343.23,709.07M341.00,709.80L342.38,711.70M341.00,709.80L339.62,711.70M341.00,709.80L338.77,709.07" stroke="#111" stroke-width="1.45" stroke-linecap="round" fill="none"/>
<text x="377.20" y="729.66" font-size="7.2" fill="#151515">Env<tspan font-size="4.7" dy="1.8" fill="#333">58-72</tspan></text>
<path d="M386.21,721.06L386.21,718.71M386.21,721.06L388.45,720.33M386.21,721.06L387.59,722.96M386.21,721.06L384.83,722.96M386.21,721.06L383.98,720.33" stroke="#111" stroke-width="1.45" stroke-linecap="round" fill="none"/>
<path d="M392.61,721.06L392.61,718.71M392.61,721.06L394.85,720.33M392.61,721.06L393.99,722.96M392.61,721.06L391.23,722.96M392.61,721.06L390.38,720.33" stroke="#111" stroke-width="1.45" stroke-linecap="round" fill="none"/>
<text x="406.04" y="758.50" font-size="7.2" font-weight="normal" text-anchor="start" fill="#151515">NS1 P4</text>
<path d="M418.45,748.50L418.45,746.15M418.45,748.50L420.68,747.77M418.45,748.50L419.83,750.40M418.45,748.50L417.07,750.40M418.45,748.50L416.21,747.77" stroke="#111" stroke-width="1.45" stroke-linecap="round" fill="none"/>
<text x="416.60" y="801.98" font-size="7.2" fill="#151515">NS1<tspan font-size="4.7" dy="1.8" fill="#333">259-273</tspan></text>
<path d="M429.03,790.78L429.03,788.43M429.03,790.78L431.26,790.06M429.03,790.78L430.41,792.69M429.03,790.78L427.65,792.69M429.03,790.78L426.79,790.06" stroke="#111" stroke-width="1.45" stroke-linecap="round" fill="none"/>
<path d="M435.43,790.78L435.43,788.43M435.43,790.78L437.66,790.06M435.43,790.78L436.81,792.69M435.43,790.78L434.05,792.69M435.43,790.78L433.19,790.06" stroke="#111" stroke-width="1.45" stroke-linecap="round" fill="none"/>
<text x="406.04" y="845.27" font-size="7.2" fill="#151515">NS1<tspan font-size="4.7" dy="1.8" fill="#333">262-276</tspan></text>
<path d="M418.47,834.77L418.47,832.42M418.47,834.77L420.70,834.04M418.47,834.77L419.85,836.67M418.47,834.77L417.09,836.67M418.47,834.77L416.23,834.04" stroke="#111" stroke-width="1.45" stroke-linecap="round" fill="none"/>
<path d="M424.87,834.77L424.87,832.42M424.87,834.77L427.10,834.04M424.87,834.77L426.25,836.67M424.87,834.77L423.49,836.67M424.87,834.77L422.63,834.04" stroke="#111" stroke-width="1.45" stroke-linecap="round" fill="none"/>
<text x="377.20" y="874.11" font-size="7.2" font-weight="normal" text-anchor="start" fill="#151515">NS3 P3</text>
<path d="M386.41,863.51L386.41,861.16M386.41,863.51L388.64,862.78M386.41,863.51L387.79,865.41M386.41,863.51L385.03,865.41M386.41,863.51L384.17,862.78" stroke="#111" stroke-width="1.45" stroke-linecap="round" fill="none"/>
<path d="M392.81,863.51L392.81,861.16M392.81,863.51L395.04,862.78M392.81,863.51L394.19,865.41M392.81,863.51L391.43,865.41M392.81,863.51L390.57,862.78" stroke="#111" stroke-width="1.45" stroke-linecap="round" fill="none"/>
<text x="322.17" y="884.67" font-size="7.2" fill="#151515">NS3<tspan font-size="4.7" dy="1.8" fill="#333">298-312</tspan></text>
<path d="M334.60,875.17L334.60,872.82M334.60,875.17L336.83,874.44M334.60,875.17L335.98,877.07M334.60,875.17L333.22,877.07M334.60,875.17L332.37,874.44" stroke="#111" stroke-width="1.45" stroke-linecap="round" fill="none"/>
<path d="M341.00,875.17L341.00,872.82M341.00,875.17L343.23,874.44M341.00,875.17L342.38,877.07M341.00,875.17L339.62,877.07M341.00,875.17L338.77,874.44" stroke="#111" stroke-width="1.45" stroke-linecap="round" fill="none"/>
<text x="273.59" y="874.11" font-size="7.2" font-weight="normal" text-anchor="start" fill="#151515">NS4 P1</text>
<path d="M285.99,864.81L285.99,862.46M285.99,864.81L288.23,864.08M285.99,864.81L287.37,866.71M285.99,864.81L284.61,866.71M285.99,864.81L283.76,864.08" stroke="#111" stroke-width="1.45" stroke-linecap="round" fill="none"/>
<text x="238.30" y="845.27" font-size="7.2" fill="#151515">NS4<tspan font-size="4.7" dy="1.8" fill="#333">183-200</tspan></text>
<path d="M250.73,835.27L250.73,832.92M250.73,835.27L252.97,834.54M250.73,835.27L252.11,837.17M250.73,835.27L249.35,837.17M250.73,835.27L248.50,834.54" stroke="#111" stroke-width="1.45" stroke-linecap="round" fill="none"/>
<path d="M257.13,835.27L257.13,832.92M257.13,835.27L259.37,834.54M257.13,835.27L258.51,837.17M257.13,835.27L255.75,837.17M257.13,835.27L254.90,834.54" stroke="#111" stroke-width="1.45" stroke-linecap="round" fill="none"/>
<text x="234.19" y="801.98" font-size="7.2" font-weight="normal" text-anchor="start" fill="#151515">NS4 P2</text>
<path d="M243.39,792.38L243.39,790.03M243.39,792.38L245.63,791.66M243.39,792.38L244.77,794.29M243.39,792.38L242.01,794.29M243.39,792.38L241.16,791.66" stroke="#111" stroke-width="1.45" stroke-linecap="round" fill="none"/>
<path d="M249.79,792.38L249.79,790.03M249.79,792.38L252.03,791.66M249.79,792.38L251.17,794.29M249.79,792.38L248.41,794.29M249.79,792.38L247.56,791.66" stroke="#111" stroke-width="1.45" stroke-linecap="round" fill="none"/>
<text x="238.30" y="757.70" font-size="7.2" fill="#151515">NS4<tspan font-size="4.7" dy="1.8" fill="#333">225-242</tspan></text>
<path d="M250.73,748.40L250.73,746.05M250.73,748.40L252.97,747.67M250.73,748.40L252.11,750.30M250.73,748.40L249.35,750.30M250.73,748.40L248.50,747.67" stroke="#111" stroke-width="1.45" stroke-linecap="round" fill="none"/>
<path d="M257.13,748.40L257.13,746.05M257.13,748.40L259.37,747.67M257.13,748.40L258.51,750.30M257.13,748.40L255.75,750.30M257.13,748.40L254.90,747.67" stroke="#111" stroke-width="1.45" stroke-linecap="round" fill="none"/>
<text x="267.15" y="728.86" font-size="7.2" fill="#151515">NS4<tspan font-size="4.7" dy="1.8" fill="#333">232-249</tspan></text>
<path d="M279.57,719.56L279.57,717.21M279.57,719.56L281.81,718.83M279.57,719.56L280.95,721.46M279.57,719.56L278.19,721.46M279.57,719.56L277.34,718.83" stroke="#111" stroke-width="1.45" stroke-linecap="round" fill="none"/>
<path d="M285.97,719.56L285.97,717.21M285.97,719.56L288.21,718.83M285.97,719.56L287.35,721.46M285.97,719.56L284.59,721.46M285.97,719.56L283.74,718.83" stroke="#111" stroke-width="1.45" stroke-linecap="round" fill="none"/>
<text x="341.00" y="690.80" font-size="12" font-weight="bold" text-anchor="middle" fill="#111">IFN-ɣ+ TNF<tspan font-weight="normal">α</tspan>+</text>
<polygon points="567.60,785.58 573.46,787.15 577.75,791.44 579.32,797.30 577.75,803.16 573.46,807.45 567.60,809.02 561.74,807.45 557.45,803.16 555.88,797.30 557.45,791.44 561.74,787.15" fill="none" stroke="#d4d4d4" stroke-width="0.8"/>
<polygon points="567.60,773.87 579.32,777.01 587.89,785.58 591.03,797.30 587.89,809.02 579.32,817.59 567.60,820.73 555.88,817.59 547.31,809.02 544.17,797.30 547.31,785.58 555.88,777.01" fill="none" stroke="#d4d4d4" stroke-width="0.8"/>
<polygon points="567.60,762.15 585.18,766.86 598.04,779.72 602.75,797.30 598.04,814.88 585.18,827.74 567.60,832.45 550.02,827.74 537.16,814.88 532.45,797.30 537.16,779.72 550.02,766.86" fill="none" stroke="#d4d4d4" stroke-width="0.8"/>
<polygon points="567.60,750.43 591.03,756.71 608.19,773.87 614.47,797.30 608.19,820.73 591.03,837.89 567.60,844.17 544.17,837.89 527.01,820.73 520.73,797.30 527.01,773.87 544.17,756.71" fill="none" stroke="#d4d4d4" stroke-width="0.8"/>
<polygon points="567.60,738.72 596.89,746.57 618.33,768.01 626.18,797.30 618.33,826.59 596.89,848.03 567.60,855.88 538.31,848.03 516.87,826.59 509.02,797.30 516.87,768.01 538.31,746.57" fill="none" stroke="#d4d4d4" stroke-width="0.8"/>
<polygon points="567.60,727.00 602.75,736.42 628.48,762.15 637.90,797.30 628.48,832.45 602.75,858.18 567.60,867.60 532.45,858.18 506.72,832.45 497.30,797.30 506.72,762.15 532.45,736.42" fill="none" stroke="#d4d4d4" stroke-width="0.8"/>
<line x1="567.60" y1="797.30" x2="567.60" y2="727.00" stroke="#8c8c8c" stroke-width="1.0"/>
<line x1="567.60" y1="797.30" x2="602.75" y2="736.42" stroke="#555" stroke-width="0.75"/>
<line x1="567.60" y1="797.30" x2="628.48" y2="762.15" stroke="#555" stroke-width="0.75"/>
<line x1="567.60" y1="797.30" x2="637.90" y2="797.30" stroke="#555" stroke-width="0.75"/>
<line x1="567.60" y1="797.30" x2="628.48" y2="832.45" stroke="#555" stroke-width="0.75"/>
<line x1="567.60" y1="797.30" x2="602.75" y2="858.18" stroke="#555" stroke-width="0.75"/>
<line x1="567.60" y1="797.30" x2="567.60" y2="867.60" stroke="#555" stroke-width="0.75"/>
<line x1="567.60" y1="797.30" x2="532.45" y2="858.18" stroke="#555" stroke-width="0.75"/>
<line x1="567.60" y1="797.30" x2="506.72" y2="832.45" stroke="#555" stroke-width="0.75"/>
<line x1="567.60" y1="797.30" x2="497.30" y2="797.30" stroke="#555" stroke-width="0.75"/>
<line x1="567.60" y1="797.30" x2="506.72" y2="762.15" stroke="#555" stroke-width="0.75"/>
<line x1="567.60" y1="797.30" x2="532.45" y2="736.42" stroke="#555" stroke-width="0.75"/>
<text x="566.30" y="799.50" font-size="6.2" font-weight="normal" text-anchor="end" fill="#1a1a1a">-1</text>
<text x="566.30" y="787.78" font-size="6.2" font-weight="normal" text-anchor="end" fill="#1a1a1a">0</text>
<text x="566.30" y="776.07" font-size="6.2" font-weight="normal" text-anchor="end" fill="#1a1a1a">1</text>
<text x="566.30" y="764.35" font-size="6.2" font-weight="normal" text-anchor="end" fill="#1a1a1a">2</text>
<text x="566.30" y="752.63" font-size="6.2" font-weight="normal" text-anchor="end" fill="#1a1a1a">3</text>
<text x="566.30" y="740.92" font-size="6.2" font-weight="normal" text-anchor="end" fill="#1a1a1a">4</text>
<text x="566.30" y="729.20" font-size="6.2" font-weight="normal" text-anchor="end" fill="#1a1a1a">5</text>
<polygon points="567.60,777.62 575.63,783.40 595.00,781.48 595.60,797.30 592.36,811.59 576.39,812.52 567.60,813.23 557.64,814.55 553.09,805.68 512.30,797.30 519.30,769.41 540.07,749.61" fill="rgba(228,70,76,0.5)" stroke="#f04a58" stroke-width="1"/>
<polygon points="567.60,785.23 573.93,786.34 579.78,790.27 581.43,797.30 579.78,804.33 573.93,808.26 567.60,809.60 561.45,807.95 556.95,803.45 555.30,797.30 556.95,791.15 561.45,786.65" fill="rgba(52,117,232,0.55)" stroke="#4a6cf0" stroke-width="1.0"/>
<text x="555.99" y="717.80" font-size="7.2" font-weight="normal" text-anchor="start" fill="#151515">Env P1</text>
<path d="M567.60,708.50L567.60,706.15M567.60,708.50L569.83,707.77M567.60,708.50L568.98,710.40M567.60,708.50L566.22,710.40M567.60,708.50L565.37,707.77" stroke="#111" stroke-width="1.45" stroke-linecap="round" fill="none"/>
<text x="606.55" y="728.24" font-size="7.2" fill="#151515" font-weight="bold">Env<tspan font-size="4.7" dy="1.8" fill="#333">58-72</tspan></text>
<path d="M618.76,719.64L618.76,717.29M618.76,719.64L621.00,718.91M618.76,719.64L620.14,721.54M618.76,719.64L617.38,721.54M618.76,719.64L616.53,718.91" stroke="#111" stroke-width="1.45" stroke-linecap="round" fill="none"/>
<text x="635.06" y="756.75" font-size="7.2" font-weight="normal" text-anchor="start" fill="#151515">NS1 P4</text>
<path d="M647.47,746.75L647.47,744.40M647.47,746.75L649.70,746.02M647.47,746.75L648.85,748.65M647.47,746.75L646.09,748.65M647.47,746.75L645.23,746.02" stroke="#111" stroke-width="1.45" stroke-linecap="round" fill="none"/>
<text x="645.50" y="799.78" font-size="7.2" fill="#151515">NS1<tspan font-size="4.7" dy="1.8" fill="#333">259-273</tspan></text>
<path d="M661.13,788.58L661.13,786.23M661.13,788.58L663.36,787.86M661.13,788.58L662.51,790.49M661.13,788.58L659.75,790.49M661.13,788.58L658.89,787.86" stroke="#111" stroke-width="1.45" stroke-linecap="round" fill="none"/>
<text x="635.06" y="842.62" font-size="7.2" fill="#151515">NS1<tspan font-size="4.7" dy="1.8" fill="#333">262-276</tspan></text>
<path d="M650.69,832.12L650.69,829.77M650.69,832.12L652.92,831.39M650.69,832.12L652.07,834.02M650.69,832.12L649.31,834.02M650.69,832.12L648.45,831.39" stroke="#111" stroke-width="1.45" stroke-linecap="round" fill="none"/>
<text x="606.55" y="871.13" font-size="7.2" font-weight="normal" text-anchor="start" fill="#151515">NS3 P3</text>
<path d="M618.96,860.53L618.96,858.18M618.96,860.53L621.19,859.81M618.96,860.53L620.34,862.43M618.96,860.53L617.58,862.43M618.96,860.53L616.72,859.81" stroke="#111" stroke-width="1.45" stroke-linecap="round" fill="none"/>
<text x="551.97" y="881.57" font-size="7.2" fill="#151515">NS3<tspan font-size="4.7" dy="1.8" fill="#333">298-312</tspan></text>
<path d="M567.60,872.07L567.60,869.72M567.60,872.07L569.83,871.34M567.60,872.07L568.98,873.97M567.60,872.07L566.22,873.97M567.60,872.07L565.37,871.34" stroke="#111" stroke-width="1.45" stroke-linecap="round" fill="none"/>
<text x="503.84" y="871.13" font-size="7.2" font-weight="normal" text-anchor="start" fill="#151515">NS4 P1</text>
<path d="M516.24,861.83L516.24,859.48M516.24,861.83L518.48,861.11M516.24,861.83L517.62,863.73M516.24,861.83L514.86,863.73M516.24,861.83L514.01,861.11" stroke="#111" stroke-width="1.45" stroke-linecap="round" fill="none"/>
<text x="468.88" y="842.62" font-size="7.2" fill="#151515">NS4<tspan font-size="4.7" dy="1.8" fill="#333">183-200</tspan></text>
<path d="M484.51,832.62L484.51,830.27M484.51,832.62L486.75,831.89M484.51,832.62L485.89,834.52M484.51,832.62L483.13,834.52M484.51,832.62L482.28,831.89" stroke="#111" stroke-width="1.45" stroke-linecap="round" fill="none"/>
<text x="464.89" y="799.78" font-size="7.2" font-weight="normal" text-anchor="start" fill="#151515">NS4 P2</text>
<path d="M477.29,790.18L477.29,787.83M477.29,790.18L479.53,789.46M477.29,790.18L478.67,792.09M477.29,790.18L475.91,792.09M477.29,790.18L475.06,789.46" stroke="#111" stroke-width="1.45" stroke-linecap="round" fill="none"/>
<text x="468.88" y="755.95" font-size="7.2" fill="#151515">NS4<tspan font-size="4.7" dy="1.8" fill="#333">225-242</tspan></text>
<path d="M484.51,746.65L484.51,744.30M484.51,746.65L486.75,745.92M484.51,746.65L485.89,748.55M484.51,746.65L483.13,748.55M484.51,746.65L482.28,745.92" stroke="#111" stroke-width="1.45" stroke-linecap="round" fill="none"/>
<text x="497.40" y="727.44" font-size="7.2" fill="#151515">NS4<tspan font-size="4.7" dy="1.8" fill="#333">232-249</tspan></text>
<path d="M513.02,718.14L513.02,715.79M513.02,718.14L515.26,717.41M513.02,718.14L514.40,720.04M513.02,718.14L511.64,720.04M513.02,718.14L510.79,717.41" stroke="#111" stroke-width="1.45" stroke-linecap="round" fill="none"/>
<text x="571.70" y="690.80" font-size="12" font-weight="bold" text-anchor="middle" fill="#111">IFN-ɣ+ TNF<tspan font-weight="normal">α</tspan>+ IL-2+</text>
</svg>
</body></html>
